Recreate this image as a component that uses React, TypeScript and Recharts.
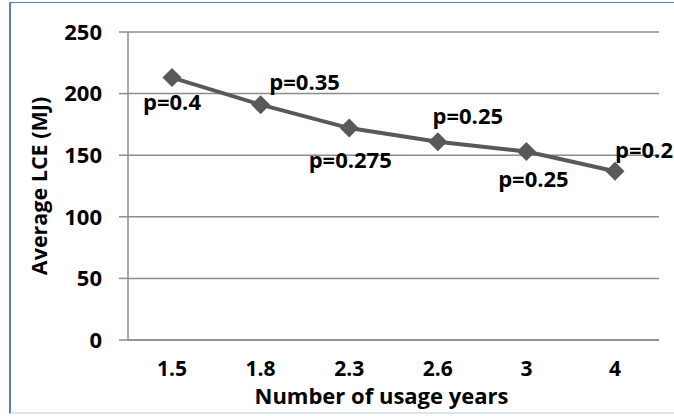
import { CartesianGrid, LabelList, Line, LineChart, XAxis, YAxis } from 'recharts';

const usageYears = ['1.5', '1.8', '2.3', '2.6', '3', '4'];
const averageLce = [213, 191, 172, 161, 153, 137];
const pValues = ['p=0.4', 'p=0.35', 'p=0.275', 'p=0.25', 'p=0.25', 'p=0.2'];
const yTicks = [0, 50, 100, 150, 200, 250];

const chartData = usageYears.map((year, i) => ({ year, lce: averageLce[i], p: pValues[i] }));

// where each p label sits relative to its point
const labelOffsets = [
    [0, 24],
    [44, -23],
    [1, 32],
    [30, -26],
    [7, 27],
    [29, -21],
];

const FONT = "'Open Sans', sans-serif";
const GRID = '#8c8c8c';
const LINE = '#595959';

const Diamond = (props: any) => {
    const { cx, cy, index } = props;
    const r = 9.5;
    return (
        <path
            key={`d-${index}`}
            d={`M${cx},${cy - r}L${cx + r},${cy}L${cx},${cy + r}L${cx - r},${cy}Z`}
            fill={LINE}
        />
    );
};

const PLabel = (props: any) => {
    const { x, y, value, index } = props;
    const [dx, dy] = labelOffsets[index];
    return (
        <text
            x={x + dx}
            y={y + dy + 8}
            textAnchor="middle"
            fontFamily={FONT}
            fontWeight={700}
            fontSize={22}
            fill="#000">
            {value}
        </text>
    );
};

const YTitle = (props: any) => {
    const { viewBox } = props;
    const cx = viewBox.x + 38;
    const cy = viewBox.y + viewBox.height / 2;
    return (
        <text
            x={cx}
            y={cy}
            transform={`rotate(-90 ${cx} ${cy})`}
            textAnchor="middle"
            dominantBaseline="central"
            fontFamily={FONT}
            fontWeight={700}
            fontSize={21.5}
            fill="#000">
            Average LCE (MJ)
        </text>
    );
};

const XTitle = (props: any) => {
    const { viewBox } = props;
    return (
        <text
            x={viewBox.x + viewBox.width / 2 - 12}
            y={viewBox.y + 64}
            textAnchor="middle"
            fontFamily={FONT}
            fontWeight={700}
            fontSize={22}
            fill="#000">
            Number of usage years
        </text>
    );
};

export default function App() {
    return (
        <div style={{ position: 'absolute', left: 0, top: 0, width: 674, height: 416, background: '#fff' }}>
            <div
                style={{
                    position: 'absolute',
                    left: 9,
                    top: 2,
                    width: 665,
                    height: 412,
                    borderLeft: '2px solid #4f81bd',
                    borderTop: '1px solid #4f81bd',
                    borderBottom: '2px solid #dde4ee',
                    boxSizing: 'border-box',
                }}
            />
            <LineChart
                width={674}
                height={416}
                data={chartData}
                margin={{ top: 32, right: 15, bottom: 16, left: 0 }}
                style={{ position: 'absolute', left: 0, top: 0 }}>
                <CartesianGrid vertical={false} stroke={GRID} strokeWidth={1.5} />
                <XAxis
                    dataKey="year"
                    height={60}
                    padding={{ left: 44, right: 44 }}
                    axisLine={{ stroke: GRID, strokeWidth: 1.5 }}
                    tickLine={false}
                    tickSize={0}
                    tickMargin={21}
                    tick={{ fill: '#000', fontFamily: FONT, fontWeight: 700, fontSize: 21 }}
                    label={<XTitle />}
                />
                <YAxis
                    width={128}
                    domain={[0, 250]}
                    ticks={yTicks}
                    axisLine={{ stroke: GRID, strokeWidth: 1.5 }}
                    tickLine={{ stroke: GRID, strokeWidth: 1.5 }}
                    tickSize={9}
                    tickMargin={17}
                    tick={{ fill: '#000', fontFamily: FONT, fontWeight: 700, fontSize: 22 }}
                    label={<YTitle />}
                />
                <Line
                    dataKey="lce"
                    stroke={LINE}
                    strokeWidth={4}
                    dot={Diamond}
                    activeDot={false}
                    isAnimationActive={false}>
                    <LabelList dataKey="p" content={PLabel} />
                </Line>
            </LineChart>
        </div>
    );
}
